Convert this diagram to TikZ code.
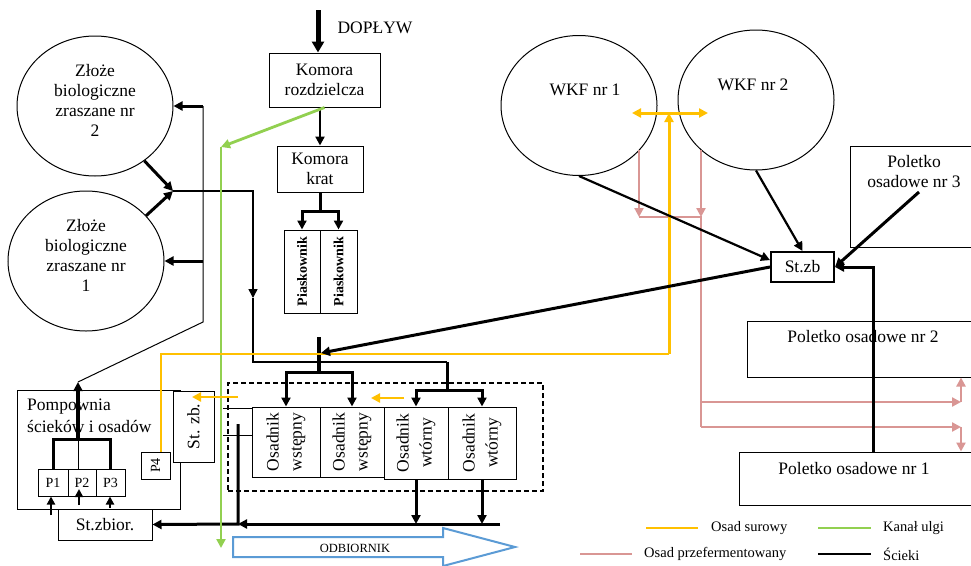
\documentclass[tikz,border=0pt]{standalone}
\usepackage{fontspec}
\setmainfont{Liberation Serif}
\usetikzlibrary{arrows.meta,shapes.geometric}
\definecolor{ylw}{HTML}{FFC000}
\definecolor{grn}{HTML}{92D050}
\definecolor{pnk}{HTML}{D99694}
\definecolor{blu}{HTML}{5B9BD5}
\begin{document}
\begin{tikzpicture}[x=1pt,y=-1pt,
  every node/.style={font=\fontsize{17.5}{20}\selectfont, inner sep=0pt},
  box/.style={draw, line width=1pt, inner sep=0pt},
  ell/.style={draw, ellipse, line width=1pt, inner sep=0pt, minimum width=156, minimum height=140},
  thk/.style={line width=3pt},
  med/.style={line width=2.2pt},
  thn/.style={line width=1.5pt},
  arr/.style={-{Triangle[length=9pt,width=9pt]}},
  sarr/.style={-{Triangle[length=8pt,width=8pt]}},
  darr/.style={{Triangle[length=9pt,width=9pt]}-{Triangle[length=9pt,width=9pt]}},
  rtxt/.style={rotate=90, align=center, font=\fontsize{17.5}{23}\selectfont},
  ylwl/.style={draw=ylw, line width=2.8pt},
  pnkl/.style={draw=pnk, line width=2.8pt},
  grnl/.style={draw=grn, line width=2.8pt},
  lgd/.style={font=\fontsize{14.5}{16}\selectfont, anchor=west}]
\clip (0,0) rectangle (971,565);
\fill[white] (0,0) rectangle (971,565);

% ---------- top centre ----------
\node[box, minimum width=111, minimum height=54, align=center] (komR) at (324.5,80) {Komora\\rozdzielcza};
\node[box, minimum width=86, minimum height=46, align=center] (komK) at (320,169) {Komora\\krat};
\node[box, minimum width=36, minimum height=83] (pia1) at (302,271.5) {};
\node[box, minimum width=37, minimum height=83] (pia2) at (338.5,271.5) {};
\node[rotate=90, font=\bfseries\fontsize{14}{16}\selectfont] (pia1t) at (pia1) {Piaskownik};
\node[rotate=90, font=\bfseries\fontsize{14}{16}\selectfont] (pia2t) at (pia2) {Piaskownik};
\node (dop) at (375,28) {DOPŁYW};
\coordinate (dopIn) at (318,10);
\draw[line width=5pt, -{Triangle[length=11pt,width=12pt]}] (dopIn) -- (dopIn |- komR.north);
\draw[med, arr] (komK.north |- komR.south) -- (komK.north);
\draw[thk] (komK.south) -- ++(0,19) coordinate (kk);
\draw[thk, arr] (kk) -| (pia1.north);
\draw[thk, arr] (kk) -| (pia2.north);

% ---------- biofilters ----------
\node[ell] (z2) at (95,106) {};
\node[ell] (z1) at (86,261) {};
\node[align=center] (z2t) at (95,100) {Złoże\\biologiczne\\zraszane nr\\2};
\node[align=center] (z1t) at (86,255) {Złoże\\biologiczne\\zraszane nr\\1};
\coordinate (jz) at (173,191);
\draw[thk, arr] (z2.-48) -- (jz);
\draw[thk, arr] (z1.37) -- (jz);
\coordinate (j2) at (253,298);
\coordinate (j3) at (447,362);
\coordinate (j4) at (447,390);
\draw[thn, arr] (jz) -| (j2);
\draw[thn] (j2) |- (j3);
\draw[thk] (j3) -- (j4);

% ---------- settling tanks ----------
\node[draw, line width=1.8pt, minimum width=315, minimum height=108, dash pattern=on 5pt off 3pt] (dsh) at (385.5,437) {};
\node[box, minimum width=68, minimum height=70] (os1) at (286,442) {};
\node[box, minimum width=64, minimum height=70] (os2) at (352,442) {};
\node[box, minimum width=64, minimum height=72] (os3) at (416,443) {};
\node[box, minimum width=68, minimum height=72] (os4) at (482,443) {};
\node[rtxt] (os1t) at (os1) {Osadnik\\wstępny};
\node[rtxt] (os2t) at (os2) {Osadnik\\wstępny};
\node[rtxt] (os3t) at (os3) {Osadnik\\wtórny};
\node[rtxt] (os4t) at (os4) {Osadnik\\wtórny};
\draw[thk, arr] (j4) -| (os3.north);
\draw[thk, arr] (j4) -| (os4.north);
\coordinate (c1) at (319,337);
\coordinate (c2) at (319,372);
\coordinate (c3) at (321,353);
\draw[line width=4pt] (c1) -- (c2);
\draw[thk, arr] (c2) -| (os1.north);
\draw[thk, arr] (c2) -| (os2.north);
\coordinate (sl1) at (223,408);
\coordinate (sl2) at (223,435);
\draw[line width=1pt] (sl1) -- (sl1 -| os1.west);
\draw[line width=1pt] (sl2) -- (sl2 -| os1.west);

% ---------- pump station ----------
\node[box, minimum width=163, minimum height=119] (pomp) at (98.5,449.5) {};
\node[box, fill=white, minimum width=41, minimum height=71] (stzb2) at (193.5,426.5) {};
\node[rotate=90] (stzb2t) at (stzb2) {St. zb.};
\node[box, minimum width=29, minimum height=27] (p4) at (155.5,465.5) {};
\node[rotate=90, font=\fontsize{14}{16}\selectfont] (p4t) at (p4) {P4};
\node[align=left, anchor=west] (pompt) at (27,416) {Pompownia\\[2pt]ścieków i osadów};
\node[box, minimum width=30, minimum height=27, font=\fontsize{14}{16}\selectfont] (P1) at (53,482.5) {P1};
\node[box, minimum width=28, minimum height=27, font=\fontsize{14}{16}\selectfont] (P2) at (82,482.5) {P2};
\node[box, minimum width=29, minimum height=27, font=\fontsize{14}{16}\selectfont] (P3) at (110.5,482.5) {P3};
\node[box, fill=white, minimum width=94, minimum height=31] (stzbior) at (105,524.5) {St.zbior.};
\coordinate (pb) at (78,439);
\coordinate (pt) at (78,382);
\draw[thk] (P1.north) |- (pb) -| (P3.north);
\draw[line width=1pt] (pb) -- (pb |- P2.north);
\draw[line width=3.5pt, arr] (pb) -- (pt);
\coordinate (a1) at (51,515);
\coordinate (a2) at (79,505);
\coordinate (a3) at (110,508);
\draw[med, sarr] (a1) -- (a1 |- P1.south);
\draw[med, sarr] (a2) -- (79,489);
\draw[med, sarr] (a3) -- (a3 |- P3.south);

% return line to biofilters
\coordinate (rt) at (203,106);
\coordinate (rm) at (203,261);
\coordinate (rb) at (203,322);
\draw[line width=1pt] (rt) -- (rb) -- (pt);
\draw[thk, arr] (rt) -- (z2.east);
\draw[thk, arr] (rm) -- (z1.east);

% bottom collector
\coordinate (b1) at (500,524);
\coordinate (b2) at (238,524);
\coordinate (b3) at (238,424);
\draw[thk, arr] (b1) -- (b2);
\draw[thk, arr] (b3) -- (b2) -- (stzbior.east);
\draw[thk, arr] (os3.south) -- (os3.south |- b1);
\draw[thk, arr] (os4.south) -- (os4.south |- b1);

% ---------- receiver ----------
\draw[blu, line width=2pt] (233,537) -- (443,537) -- (443,528) -- (515,547) -- (443,566) -- (443,557) -- (233,557) -- cycle;
\node[font=\fontsize{12.5}{14}\selectfont] (odb) at (355,548) {ODBIORNIK};

% ---------- green relief channel ----------
\coordinate (g1) at (221,147);
\coordinate (g2) at (221,548);
\draw[grnl, arr] (komR.south) -- (g1);
\draw[grnl, arr] (g1) -- (g2);

% ---------- right part ----------
\node[ell] (wkf1) at (579,105.5) {};
\node[ell] (wkf2) at (756,100) {};
\node (wkf1t) at (585,90) {WKF nr 1};
\node (wkf2t) at (753,85) {WKF nr 2};
\node[box, line width=2pt, minimum width=63, minimum height=30] (stzb) at (802.5,267) {St.zb};
\node[box, minimum width=140, minimum height=101] (pol3) at (920,196.5) {};
\node[align=center] (pol3t) at (914,172) {Poletko\\osadowe nr 3};
\node[box, minimum width=243, minimum height=56] (pol2) at (868.5,349) {};
\node[box, minimum width=251, minimum height=53] (pol1) at (864.5,478.5) {};

% pink lines
\coordinate (k1) at (639,150);
\coordinate (k2) at (701,150);
\coordinate (k3) at (639,217);
\coordinate (k4) at (701,217);
\coordinate (k5) at (701,402);
\coordinate (k6) at (701,427);
\coordinate (k7) at (961,402);
\coordinate (k8) at (961,427);
\draw[pnkl, arr] (k1) -- (k3);
\draw[pnkl, arr] (k2) -- (k4);
\draw[pnkl] (k3) -- (k4) -- (k6);
\draw[pnkl, arr] (k5) -- (k7);
\draw[pnkl, arr] (k6) -- (k8);
\draw[pnkl, arr] (k7) -- (k7 |- pol2.south);
\draw[pnkl, arr] (k8) -- (k8 |- pol1.north);

% yellow raw sludge
\coordinate (yA) at (669,354);
\coordinate (yB) at (669,113);
\coordinate (yL) at (632,113);
\coordinate (yR) at (708,113);
\draw[draw=ylw, line width=2.2pt] ([xshift=5.5pt]p4.north) |- (yA);
\draw[ylwl, line width=3pt, arr] (yA) -- (yB);
\draw[ylwl, line width=3pt, darr] (yL) -- (yR);
\coordinate (yc) at (238,397);
\coordinate (yd) at (192,397);
\coordinate (ye) at (404,398);
\coordinate (yf) at (371,398);
\draw[ylwl, arr] (yc) -- (yd);
\draw[ylwl, arr] (ye) -- (yf);

% black to collection chamber
\coordinate (p3s) at (919,192);
\coordinate (p1in) at (873,452);
\draw[med, arr] (wkf1.south) -- (stzb.168);
\draw[med, arr] (wkf2.south) -- (stzb.north);
\draw[thk, arr] (p3s) -- (stzb.east);
\draw[thk, arr] (p1in) |- (stzb.east);
\draw[thk, arr] (stzb.west) -- (c3);

\node (pol2t) at (863,337) {Poletko osadowe nr 2};
\node (pol1t) at (854,469) {Poletko osadowe nr 1};

% ---------- legend ----------
\coordinate (l1a) at (646,528); \coordinate (l1b) at (698,528);
\coordinate (l2a) at (818,528); \coordinate (l2b) at (871,528);
\coordinate (l3a) at (580,554); \coordinate (l3b) at (632,554);
\coordinate (l4a) at (818,554); \coordinate (l4b) at (871,554);
\draw[draw=ylw, line width=2pt] (l1a) -- (l1b);
\draw[draw=grn, line width=2pt] (l2a) -- (l2b);
\draw[draw=pnk, line width=2pt] (l3a) -- (l3b);
\draw[line width=2pt] (l4a) -- (l4b);
\node[lgd] (lt1) at (711,528) {Osad surowy};
\node[lgd] (lt2) at (883,528) {Kanał ulgi};
\node[lgd] (lt3) at (644,554) {Osad przefermentowany};
\node[lgd] (lt4) at (883,554) {Ścieki};
\end{tikzpicture}
\end{document}
